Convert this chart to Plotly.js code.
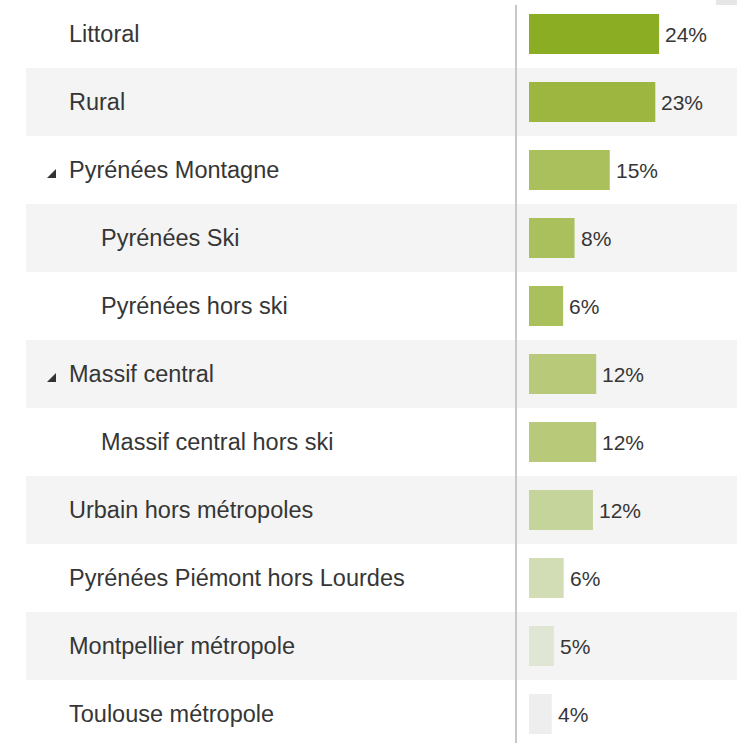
<!DOCTYPE html>
<html>
<head>
<meta charset="utf-8">
<script src="https://cdn.plot.ly/plotly-3.0.1.min.js"></script>
<style>html,body{margin:0;padding:0;background:#fff;}#chart{width:737px;height:743px;}</style>
</head>
<body>
<div id="chart"></div>
<script>
// Data
var categories = ["Littoral", "Rural", "Pyrénées Montagne", "Pyrénées Ski", "Pyrénées hors ski",
  "Massif central", "Massif central hors ski", "Urbain hors métropoles",
  "Pyrénées Piémont hors Lourdes", "Montpellier métropole", "Toulouse métropole"];
var values = [24.0, 23.3, 14.9, 8.4, 6.3, 12.4, 12.4, 11.8, 6.4, 4.6, 4.2];
var levels = [0, 0, 0, 1, 1, 0, 1, 0, 0, 0, 0];          // hierarchy depth
var expandable = [false, false, true, false, false, true, false, false, false, false, false];
var barColors = ["#8BAD23", "#9CB63F", "#AAC05C", "#AAC05C", "#AAC05C", "#B8C97A", "#B8C97A",
  "#C5D49A", "#D2DDB6", "#E0E6D4", "#EEEEEE"];

var W = 737, H = 743, ROW = 68, BASE = 529, K = 5.42;
var idx = categories.map(function (_, i) { return i; });
var valueLabels = values.map(function (v) { return Math.round(v) + "%"; });

var trace = {
  type: "bar", orientation: "h",
  x: values, y: idx,
  marker: { color: barColors, line: { width: 0 } },
  width: 0.59,
  hoverinfo: "skip"
};

var shapes = [];
// alternating row backgrounds
idx.forEach(function (i) {
  if (i % 2 === 1) {
    shapes.push({ type: "rect", layer: "below", xref: "paper", yref: "y",
      x0: 26 / W, x1: 1, y0: i - 0.5, y1: i + 0.5,
      fillcolor: "#F4F4F4", line: { width: 0 } });
  }
});
// vertical separator
shapes.push({ type: "line", xref: "paper", yref: "paper",
  x0: 516 / W, x1: 516 / W, y0: 0, y1: 1 - 5 / H,
  line: { color: "#C8C8C8", width: 2 } });
// small grey rect top right
shapes.push({ type: "rect", xref: "paper", yref: "paper",
  x0: 716 / W, x1: 1, y0: 1 - 5 / H, y1: 1,
  fillcolor: "#E6E6E6", line: { width: 0 } });
// expand triangles
idx.forEach(function (i) {
  if (expandable[i]) {
    var xl = 47 / W, xr = 56 / W, yt = i - 1 / ROW, yb = i + 8 / ROW;
    shapes.push({ type: "path", xref: "paper", yref: "y",
      path: "M " + xl + "," + yb + " L " + xr + "," + yb + " L " + xr + "," + yt + " Z",
      fillcolor: "#333333", line: { width: 0 } });
  }
});

var annotations = [];
idx.forEach(function (i) {
  annotations.push({
    xref: "paper", yref: "y", x: (67 + levels[i] * 32) / W, y: i,
    xanchor: "left", yanchor: "middle", showarrow: false,
    text: categories[i],
    font: { family: "Liberation Sans, Arial, sans-serif", size: 23.5, color: "#363636" }
  });
  annotations.push({
    xref: "x", yref: "y", x: values[i], y: i, xshift: 4,
    xanchor: "left", yanchor: "middle", showarrow: false,
    text: valueLabels[i],
    font: { family: "Liberation Sans, Arial, sans-serif", size: 21, color: "#363636" }
  });
});

var layout = {
  width: W, height: H,
  margin: { l: 0, r: 0, t: 0, b: 0, pad: 0 },
  paper_bgcolor: "#FFFFFF", plot_bgcolor: "rgba(0,0,0,0)",
  showlegend: false,
  xaxis: { range: [-BASE / K, (W - BASE) / K], visible: false, fixedrange: true },
  yaxis: { range: [-0.5 + H / ROW, -0.5], visible: false, fixedrange: true },
  shapes: shapes,
  annotations: annotations
};

Plotly.newPlot("chart", [trace], layout, { displayModeBar: false, staticPlot: true });
</script>
</body>
</html>
